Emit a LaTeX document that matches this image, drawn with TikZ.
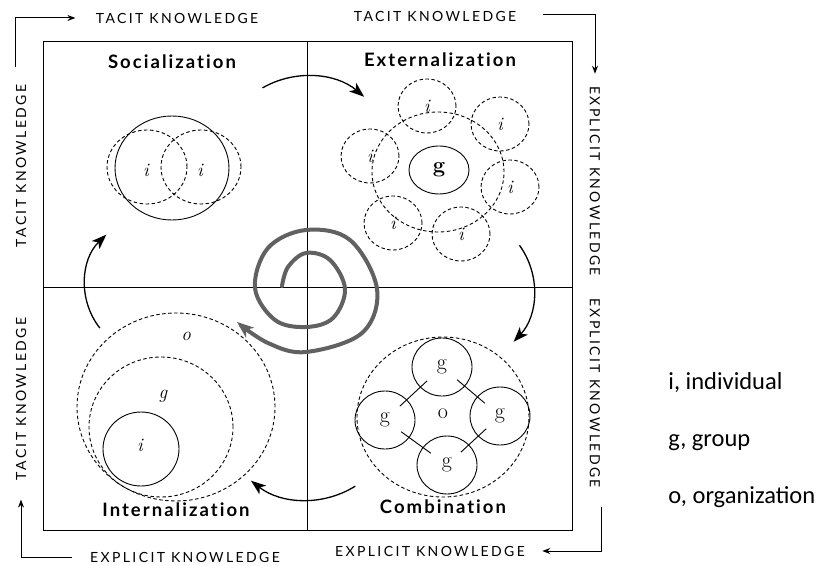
\documentclass[tikz,border=0pt]{standalone}
\usepackage{fontspec}
\newfontfamily\gillfont[LetterSpace=17]{Lato}
\newfontfamily\titlefont[LetterSpace=11,Ligatures=NoCommon]{Lato}
\newfontfamily\legendfont{Carlito}
\usetikzlibrary{arrows.meta,shapes.geometric,calc,positioning}
\tikzset{
  every picture/.style = {
    x = 1pt,
    y = 1pt,
    line width = 0.9pt,
  }
  ,
  quadrant/.style = {
    font = \titlefont\bfseries\fontsize{18.5}{22}\selectfont,
    inner sep = 0pt
  }
  , % labels of the axes
  axis-label/.style = {
    font = \gillfont\fontsize{14}{16}\selectfont,
    inner sep = 0pt
  }
  ,
  corner/.style = {
    line width = 1pt,
    -{Stealth[length=8pt,width=6pt]}
  }
  ,
  turn/.style = {
    line width = 1.3pt,
    -{Stealth[length=15pt,width=11pt,inset=4pt]}
  }
  ,
  spiral/.style = {
    draw = black!62,
    line width = 4pt,
    line cap = round,
    -{Stealth[length=17pt,width=13pt,inset=5pt,line width=0pt]}
  }
  , % circles of people
  member/.style = {
    ellipse,
    draw,
    inner sep = 0pt,
    font = \itshape\fontsize{19}{21}\selectfont
  }
  ,
  loose/.style = {
    dash pattern = on 3.5pt off 2.5pt
  }
  , % letters in the circles
  tag/.style = {
    font = \itshape\fontsize{19}{21}\selectfont
  }
  ,
  legend/.style = {
    font = \legendfont\fontsize{24.5}{28}\selectfont,
    anchor = west,
    inner sep = 0pt
  }
}
\begin{document}
\begin{tikzpicture}
\useasboundingbox (0,0) rectangle (818,565);
% frame and quadrants
\coordinate (nw) at (43,524);
\coordinate (se) at (572,35);
\draw (nw) rectangle (se);
\draw (307,524) -- (307,35);
\draw (43,278) -- (572,278);

\node[quadrant] (soc) at (172,503) {Socialization};
\node[quadrant] (ext) at (440,505) {Externalization};
\node[quadrant] (int) at (176,55) {Internalization};
\node[quadrant] (com) at (443,58) {Combination};

% labels round the frame
\node[axis-label] (tTL) at (177,547) {TACIT KNOWLEDGE};
\node[axis-label] (tTR) at (435,549) {TACIT KNOWLEDGE};
\node[axis-label, rotate=-90] (eR1) at (595,384) {EXPLICIT KNOWLEDGE};
\node[axis-label, rotate=-90] (eR2) at (595,172) {EXPLICIT KNOWLEDGE};
\node[axis-label] (eBR) at (430,14) {EXPLICIT KNOWLEDGE};
\node[axis-label] (eBL) at (185,8) {EXPLICIT KNOWLEDGE};
\node[axis-label, rotate=90] (tL2) at (21,166) {TACIT KNOWLEDGE};
\node[axis-label, rotate=90] (tL1) at (21,399) {TACIT KNOWLEDGE};

\coordinate (cTL) at (15,498);
\coordinate (cTR) at (543,550);
\coordinate (cBR) at (601,58);
\coordinate (cBL) at (72,8);
\draw[corner] (cTL) |- ([xshift=-20]tTL.west);
\draw[corner] (cTR) -| ([yshift=12]eR1.west);
\draw[corner] (cBR) |- ([xshift=17]eBR.east);
\draw[corner] (cBL) -| ([yshift=-19]tL2.west);

% socialization
\node[member, minimum width=114pt, minimum height=104pt] (sAll) at (172,397) {};
\node[member, loose, minimum width=80pt, minimum height=74pt] (s1) at (147,398) {};
\node[member, loose, minimum width=80pt, minimum height=74pt] (s2) at (201,398) {};
\node[tag] at (146,395) {i};
\node[tag] at (200,395) {i};

% externalization
\node[member, loose, minimum width=132pt, minimum height=120pt] (eAll) at (438,393) {};
\node[member, minimum width=60pt, minimum height=48pt, font=\bfseries\fontsize{22}{24}\selectfont] (eg) at (439,395) {g};
\foreach \px/\py [count=\k] in {427/459, 500/441, 370/409, 510/378, 393/342, 461/331}
  \node[member, loose, minimum width=58pt, minimum height=54pt] (e\k) at (\px,\py) {i};

% combination
\node[member, loose, minimum width=172pt, minimum height=160pt] (cAll) at (443,148) {};
\foreach \n/\px/\py in {gt/442/198, gl/385/145, gr/500/149, gb/447/100}
  \node[member, minimum width=60pt, minimum height=58pt, font=\fontsize{22}{24}\selectfont] (\n) at (\px,\py) {g};
\node[font=\fontsize{22}{24}\selectfont] (co) at (443,151) {o};
\foreach \a/\b in {gl/gt, gt/gr, gr/gb, gb/gl}
  \draw ($(\a)!0.26!(\b)$) -- ($(\a)!0.74!(\b)$);

% internalization
\node[member, loose, minimum width=198pt, minimum height=188pt] (iO) at (176,158) {};
\node[member, loose, minimum width=144pt, minimum height=140pt] (iG) at (161,138) {};
\node[member, minimum width=76pt, minimum height=74pt] (iI) at (141,116) {};
\node[tag] at (186,229) {o};
\node[tag] at (163,169) {g};
\node[tag] at (140,120) {i};

% turns between the quadrants
\coordinate (aTop) at (307,400);
\coordinate (aRight) at (458,275);
\coordinate (aBottom) at (307,156);
\coordinate (aLeft) at (155,280);
\draw[turn] ($(aTop)+(120:89)$) arc[start angle=120, end angle=50, radius=89];
\draw[turn] ($(aRight)+(36:76)$) arc[start angle=36, end angle=-43, radius=76];
\draw[turn] ($(aBottom)+(-58:91)$) arc[start angle=-58, end angle=-128, radius=91];
\draw[turn] ($(aLeft)+(218:70)$) arc[start angle=218, end angle=134, radius=70];

% spiral
\draw[spiral] plot[smooth, tension=0.6] coordinates {(282,279) (288,298) (306,312) (330,305) (345,276) (333,247) (306,238) (275,245) (255,277) (268,317) (306,335) (350,325) (377,276) (362,232) (306,213) (268,222) (237,243)};

% legend
\node[legend] (li) at (668,182) {i, individual};
\node[legend] (lg) at (668,122) {g, group};
\node[legend] (lo) at (668,68) {o, organization};
\end{tikzpicture}
\end{document}
